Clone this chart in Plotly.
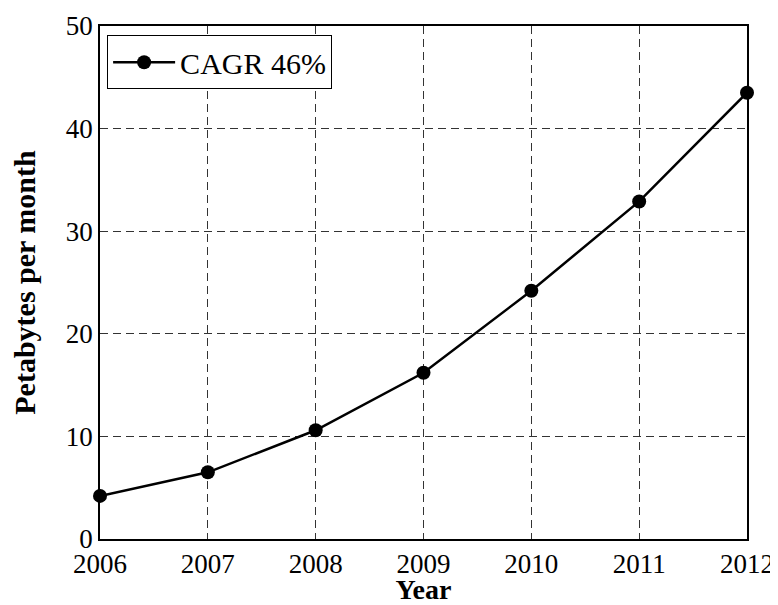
import plotly.graph_objects as go

years = [2006, 2007, 2008, 2009, 2010, 2011, 2012]
petabytes = [4.2, 6.5, 10.6, 16.2, 24.2, 32.9, 43.5]
series_name = "CAGR 46%"
x_title = "Year"
y_title = "Petabytes per month"
y_ticks = [0, 10, 20, 30, 40, 50]

FONT = "Liberation Serif"

fig = go.Figure()
fig.add_trace(go.Scatter(
    x=years, y=petabytes, name=series_name,
    mode="lines+markers",
    line=dict(color="black", width=2.5),
    marker=dict(color="black", size=14),
    cliponaxis=False,
))

axis_common = dict(
    showline=True, linecolor="black", linewidth=1.5, mirror=True,
    showgrid=True, gridcolor="#333333", gridwidth=1, griddash="8px,5px",
    zeroline=False, ticks="", automargin=False,
    tickfont=dict(family=FONT, size=27, color="black"),
)

fig.update_xaxes(
    range=[2006, 2012], tickvals=years, ticktext=[str(y) for y in years],
    title=dict(text="<b>%s</b>" % x_title, font=dict(family=FONT, size=28, color="black"), standoff=3),
    **axis_common,
)
fig.update_yaxes(
    range=[0, 50], tickvals=y_ticks,
    title=dict(text="<b>%s</b>" % y_title, font=dict(family=FONT, size=30, color="black"), standoff=27),
    **axis_common,
)

# page body adds ~8px offset; figure sized to fit the 778x605 window
fig.update_layout(
    width=770, height=597,
    margin=dict(l=92, r=31, t=18, b=66),
    paper_bgcolor="white", plot_bgcolor="white",
    showlegend=True,
    legend=dict(
        x=0.011, y=0.982, xanchor="left", yanchor="top",
        bordercolor="black", borderwidth=1, bgcolor="white",
        font=dict(family=FONT, size=30, color="black"),
        itemwidth=62,
    ),
)

fig.write_html("out.html")
